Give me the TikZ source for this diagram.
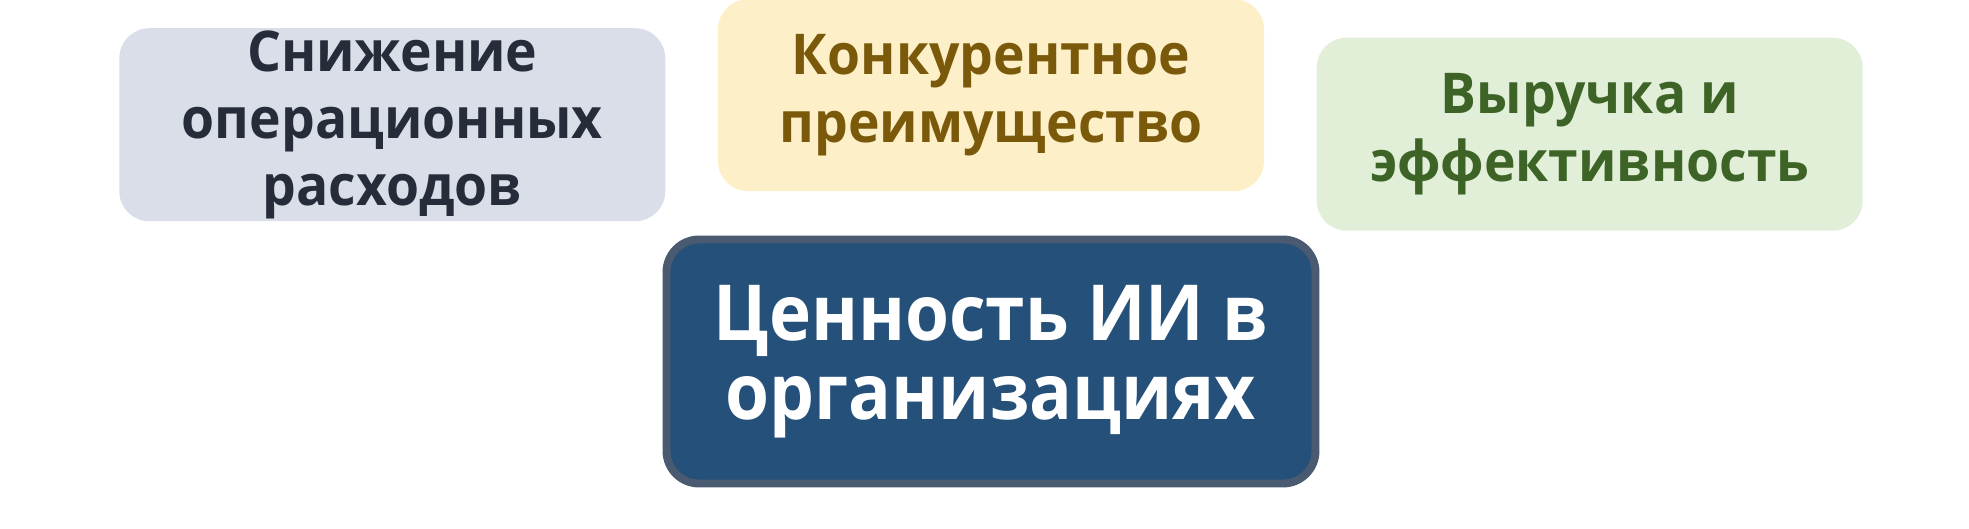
\documentclass[tikz,border=0pt]{standalone}
\usepackage{fontspec}
\setmainfont{Open Sans}
\newfontfamily\goalfont{Open Sans}[FakeStretch=0.95]
\newfontfamily\corefont{Open Sans}[FakeStretch=0.92]
\usepackage{tikz}
\usetikzlibrary{shapes}
\usetikzlibrary{positioning}
\definecolor{opsfill}{HTML}{D9DEE8}
\definecolor{opstext}{HTML}{272C3A}
\definecolor{compfill}{HTML}{FDF0C8}
\definecolor{comptext}{HTML}{7A5A0A}
\definecolor{revfill}{HTML}{E1EFD8}
\definecolor{revtext}{HTML}{3D6326}
\definecolor{valuefill}{HTML}{24507A}
\definecolor{valueline}{HTML}{4A5A70}
\tikzstyle{goal} = [rectangle,rounded corners=0.6cm,align=center,inner sep=0pt,minimum width=10.92cm,minimum height=3.86cm,font=\goalfont\bfseries\fontsize{32}{38.3}\selectfont]
\tikzstyle{core} = [rectangle,rounded corners=0.65cm,align=center,inner sep=0pt,draw=valueline,line width=4.5pt,fill=valuefill,text=white,minimum width=12.98cm,minimum height=4.88cm,font=\corefont\bfseries\fontsize{44}{44.6}\selectfont]

\begin{document}
\begin{tikzpicture}
	[node distance=1.04cm]
	\useasboundingbox (0,0) rectangle (39.38,-10.56);
	\node (value) [core] at (19.82,-7.23) {Ценность ИИ в\\организациях};
	\node (comp) [goal,fill=compfill,text=comptext,minimum height=3.84cm,above=0.88cm of value] {Конкурентное\\преимущество};
	\node (ops) [goal,fill=opsfill,text=opstext,left=of comp,yshift=-0.59cm] {Снижение\\операционных\\расходов};
	\node (rev) [goal,fill=revfill,text=revtext,right=of comp,yshift=-0.78cm] {Выручка и\\эффективность};
\end{tikzpicture}
\end{document}
